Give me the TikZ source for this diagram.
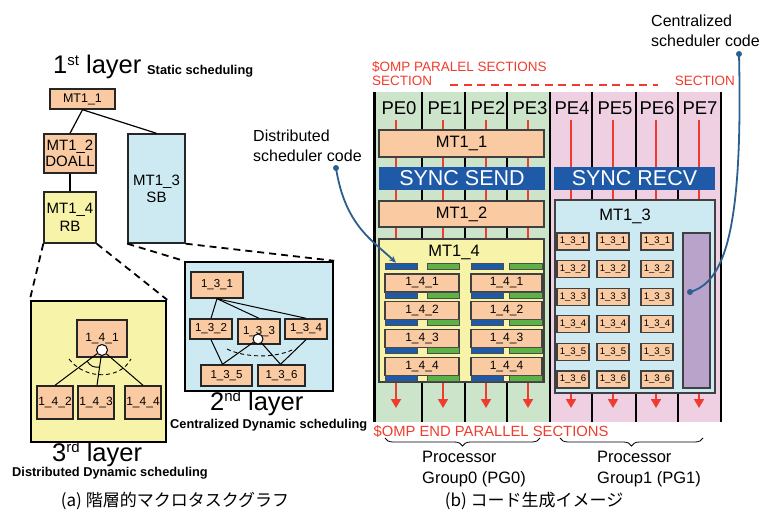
\documentclass[tikz,border=0pt]{standalone}
\usepackage{fontspec}
\setmainfont{Liberation Sans}
\newfontfamily\jpfont{Noto Sans CJK JP}
\usetikzlibrary{arrows.meta,decorations.pathreplacing}

\definecolor{peach}{HTML}{FACBA2}
\definecolor{lyellow}{HTML}{F7F3A8}
\definecolor{lblue}{HTML}{CDE9F1}
\definecolor{pgreen}{HTML}{CCE5CA}
\definecolor{ppink}{HTML}{EFD0E3}
\definecolor{dblue}{HTML}{1F5AA8}
\definecolor{bargreen}{HTML}{5DB245}
\definecolor{ompred}{HTML}{F03C2E}
\definecolor{lilac}{HTML}{B9A3CB}
\definecolor{leaderblue}{HTML}{2C5F8F}

\newcommand{\fsz}[2]{\fontsize{#1}{#2}\selectfont}
% box from corner (x1,y1) to corner (x2,y2): style, name, x1, y1, x2, y2, text
\newcommand{\bx}[7]{%
  \pgfmathsetmacro{\bxw}{#5-#3}%
  \pgfmathsetmacro{\bxh}{#6-#4}%
  \pgfmathsetmacro{\bxcx}{(#3+#5)/2}%
  \pgfmathsetmacro{\bxcy}{(#4+#6)/2}%
  \node[inner sep=0pt, #1, minimum width=\bxw pt, minimum height=\bxh pt] (#2) at (\bxcx,\bxcy) {#7};}
% layer heading with ordinal suffix
\newcommand{\layerhead}[2]{#1\raisebox{8.5pt}{\fsz{15}{15}#2} layer}

\begin{document}
\begin{tikzpicture}[x=1pt, y=-1pt,
  tbox/.style={draw=black!85, line width=1.4pt, fill=peach, align=center},
  layerbox/.style={draw=black, line width=2.4pt},
  tedge/.style={draw=black, line width=1.2pt},
  zoomline/.style={draw=black, line width=1.8pt, dash pattern=on 7pt off 5pt},
  arcdash/.style={draw=black, line width=0.9pt, dash pattern=on 4pt off 3pt},
  knot/.style={circle, draw=black, fill=white, line width=1pt, minimum size=11pt, inner sep=0pt},
  laytext/.style={anchor=base west, inner sep=0pt, font=\fsz{25.5}{27}},
  schedtext/.style={anchor=base west, inner sep=0pt, font=\bfseries\fsz{12.8}{14}},
  pbox/.style={draw=black!75, line width=1.1pt, fill=peach},
  syncbar/.style={fill=dblue, draw=none, text=white, font=\fsz{21.5}{24}},
  bluebar/.style={fill=dblue, draw=black!70, line width=0.6pt},
  greenbar/.style={fill=bargreen, draw=black!70, line width=0.6pt},
  colline/.style={draw=black, line width=2.4pt},
  redline/.style={draw=ompred, line width=1.8pt, -{Triangle[width=10pt,length=9pt]}},
  omp/.style={text=ompred, inner sep=0pt},
  pe/.style={font=\fsz{18.5}{20}, inner sep=0pt},
  leader/.style={draw=leaderblue, line width=1.8pt},
  cdot/.style={circle, fill=leaderblue, inner sep=0pt, minimum size=6pt},
  note/.style={anchor=north west, inner sep=0pt, align=left, font=\fsz{16}{20}},
  caption/.style={font=\jpfont\fsz{17}{19}, inner sep=0pt}]
\useasboundingbox (0,0) rectangle (765,513);

% ===== (a) hierarchical macro-task graph =====
\node[laytext] (lay1) at (53,74) {\layerhead{1}{st}};
\node[schedtext] (sched1) at (147,75) {Static scheduling};

\bx{tbox, font=\fsz{12.5}{14}}{m11}{50}{89}{115}{109}{MT1\_1}
\bx{tbox, font=\fsz{15}{16.5}}{m12}{44}{134}{96}{173}{MT1\_2\\DOALL}
\bx{tbox, fill=lyellow, font=\fsz{15}{18}}{m14}{44}{192}{96}{243}{MT1\_4\\RB}
\bx{tbox, fill=lblue, font=\fsz{15}{17}}{m13}{128}{134}{185}{243}{MT1\_3\\SB}

\draw[tedge] (m11.south) -- (m12.north);
\draw[tedge] (m11.south) -- (m13.north);
\draw[tedge] (m12.south) -- (m14.north);

% enlarged inner graphs
\bx{layerbox, fill=lyellow}{l3}{31}{301}{166}{442}{}
\bx{layerbox, fill=lblue}{l2}{185}{262}{333}{391}{}
\draw[zoomline] (m14.south west) -- (l3.north west);
\draw[zoomline] (m14.south east) -- (l3.north east);
\draw[zoomline] (m13.south west) -- (l2.north west);
\draw[zoomline] (m13.south east) -- (l2.north east);

% 3rd layer graph
\bx{tbox, font=\fsz{12}{13}}{n141}{77}{320}{127}{357}{1\_4\_1}
\bx{tbox, font=\fsz{12}{13}}{n142}{37}{386}{73}{419}{1\_4\_2}
\bx{tbox, font=\fsz{12}{13}}{n143}{78}{386}{114}{419}{1\_4\_3}
\bx{tbox, font=\fsz{12}{13}}{n144}{125}{386}{161}{419}{1\_4\_4}
\node[knot] (c141) at (102,350) {};
\draw[tedge, line width=1pt] (c141) -- (n142.north);
\draw[tedge, line width=1pt] (c141) -- ([xshift=1pt]n143.north);
\draw[tedge, line width=1pt] (c141) -- (n144.north);
\draw[arcdash] (69,359) .. controls (85,380) and (120,380) .. (131,359);
\draw[draw=black, line width=0.9pt] (87,361) .. controls (90,366) and (94,368) .. (100,367);

\node[laytext] (lay3) at (52,461) {\layerhead{3}{rd}};
\node[schedtext] (sched3) at (12,476) {Distributed Dynamic scheduling};

% 2nd layer graph
\bx{tbox, font=\fsz{11.5}{12}}{n131}{191}{272}{243}{298}{1\_3\_1}
\bx{tbox, font=\fsz{11.5}{12}}{n132}{190}{319}{232}{339}{1\_3\_2}
\bx{tbox, font=\fsz{11.5}{12}}{n133}{238}{319}{280}{344}{1\_3\_3}
\bx{tbox, font=\fsz{11.5}{12}}{n134}{285}{319}{327}{339}{1\_3\_4}
\bx{tbox, font=\fsz{11.5}{12}}{n135}{201}{365}{252}{386}{1\_3\_5}
\bx{tbox, font=\fsz{11.5}{12}}{n136}{258}{365}{305}{386}{1\_3\_6}
\node[knot, minimum size=10pt] (c133) at (258,339) {};
\draw[tedge, line width=1pt] (n131.south) -- (n132.north);
\draw[tedge, line width=1pt] (n131.south) -- (n133.north);
\draw[tedge, line width=1pt] (n131.south) -- (n134.north);
\draw[tedge, line width=1pt] (n132.south) -- ([xshift=-4pt]n135.north);
\draw[tedge, line width=1pt] (c133) -- ([xshift=-4pt]n135.north);
\draw[tedge, line width=1pt] (c133) -- ([xshift=-1pt]n136.north);
\draw[tedge, line width=1pt] (n134.south) -- ([xshift=-1pt]n136.north);
\draw[arcdash] (227,349) .. controls (245,358) and (275,358) .. (292,350);

\node[laytext] (lay2) at (210,410) {\layerhead{2}{nd}};
\node[schedtext] (sched2) at (170,428) {Centralized Dynamic scheduling};

\node[caption] (capa) at (175,501) {(a) 階層的マクロタスクグラフ};

% ===== (b) generated code image =====
\node[omp, anchor=base west, font=\fsz{13.5}{15}] (ompbeg) at (372,72) {\$OMP PARALEL SECTIONS};
\node[omp, anchor=base west, font=\fsz{13.5}{15}] (secL) at (372,86) {SECTION};
\node[omp, anchor=base east, font=\fsz{13.5}{15}] (secR) at (735,86) {SECTION};
\coordinate (dashA) at (450,85);
\coordinate (dashB) at (658,85);
\draw[draw=ompred, line width=1.4pt, dash pattern=on 8pt off 5.5pt] (dashA) -- (dashB);

% processor group backgrounds
\fill[pgreen] (374,92) rectangle (550,422);
\fill[ppink] (550,92) rectangle (722,422);
\foreach \x in {422,465,507,550,592,636,678,721}
  \draw[colline] (\x,92) -- (\x,422);
\draw[colline, line width=3pt] (374,92) -- (374,422);

% processor element timelines
\foreach \i/\x in {0/396,1/443,2/486,3/528,4/571,5/613,6/656,7/699}{
  \coordinate (tlA\i) at (\x,120);
  \coordinate (tlB\i) at (\x,408);
  \draw[redline] (tlA\i) -- (tlB\i);
}
\foreach \i/\x in {0/399,1/445,2/488,3/530,4/572,5/615,6/657,7/700}
  \node[pe] (pe\i) at (\x,108) {PE\i};

% PG0 code
\bx{pbox, font=\fsz{16.5}{18}}{b11}{379}{130}{544}{157}{MT1\_1}
\bx{syncbar}{send}{379}{167}{545}{190}{SYNC SEND}
\bx{pbox, font=\fsz{16.5}{18}}{b12}{379}{201}{544}{227}{MT1\_2}
\bx{pbox, fill=lyellow}{b14}{379}{239}{544}{382}{}
\node[font=\fsz{16.5}{18}, inner sep=0pt] (b14t) at (454,252) {MT1\_4};
\bx{bluebar}{bar0Lb}{385}{263}{417}{269}{}
\bx{greenbar}{bar0Lg}{427}{263}{459}{269}{}
\bx{bluebar}{bar0Rb}{471}{263}{503}{269}{}
\bx{greenbar}{bar0Rg}{509}{263}{542}{269}{}
\foreach \k in {1,...,4}{
  \pgfmathsetmacro{\ty}{274+(\k-1)*27.7}
  \pgfmathsetmacro{\tb}{\ty+18}
  \pgfmathsetmacro{\bb}{\ty+24}
  \bx{pbox, font=\fsz{12}{13}}{qL\k}{385}{\ty}{459}{\tb}{1\_4\_\k}
  \bx{bluebar}{qLb\k}{385}{\tb}{417}{\bb}{}
  \bx{greenbar}{qLg\k}{427}{\tb}{459}{\bb}{}
  \bx{pbox, font=\fsz{12}{13}}{qR\k}{471}{\ty}{542}{\tb}{1\_4\_\k}
  \bx{bluebar}{qRb\k}{471}{\tb}{503}{\bb}{}
  \bx{greenbar}{qRg\k}{509}{\tb}{542}{\bb}{}
}

% PG1 code
\bx{syncbar}{recv}{554}{167}{715}{190}{SYNC RECV}
\bx{pbox, fill=lblue}{b13}{555}{200}{715}{393}{}
\node[font=\fsz{16.5}{18}, inner sep=0pt] (b13t) at (625,216) {MT1\_3};
\foreach \r in {1,...,6}{
  \pgfmathsetmacro{\ty}{233+(\r-1)*27.6}
  \pgfmathsetmacro{\tb}{\ty+17}
  \foreach \c/\cx in {1/557,2/597,3/641}{
    \pgfmathsetmacro{\cr}{\cx+32}
    \bx{pbox, font=\fsz{9.5}{10}}{g\r\c}{\cx}{\ty}{\cr}{\tb}{1\_3\_\r}
  }
}
\bx{pbox, fill=lilac}{pbar}{683}{233}{710}{388}{}

\node[omp, font=\fsz{14.8}{16}] (ompend) at (491,432) {\$OMP END PARALLEL SECTIONS};

% processor groups
\coordinate (brA) at (385,438);
\coordinate (brB) at (540,438);
\coordinate (brC) at (560,438);
\coordinate (brD) at (703,438);
\draw[line width=0.8pt, decorate, decoration={brace, mirror, amplitude=8pt}] (brA) -- (brB);
\draw[line width=0.8pt, decorate, decoration={brace, mirror, amplitude=8pt}] (brC) -- (brD);
\node[note, font=\fsz{16.5}{21}] (pg0) at (422,451) {Processor\\Group0 (PG0)};
\node[note, font=\fsz{16.5}{21}] (pg1) at (597,451) {Processor\\Group1 (PG1)};

% scheduler code call-outs
\node[note] (dsc) at (253,130) {Distributed\\scheduler code};
\coordinate (dsdot) at (336,168);
\draw[leader, -{Stealth[length=7pt,width=6pt]}] (dsdot) .. controls (345,225) and (372,240) .. ([xshift=-5pt]bar0Lb.north);
\node[cdot] (dsmark) at (dsdot) {};

\node[note] (csc) at (651,15) {Centralized\\scheduler code};
\coordinate (csdot) at (739,54);
\coordinate (cstarget) at (690,292);
\draw[leader] (csdot) .. controls (743,230) and (725,282) .. (cstarget);
\node[cdot] (csmark) at (csdot) {};
\node[cdot] (ctmark) at (cstarget) {};

\node[caption] (capb) at (534,501) {(b) コード生成イメージ};
\end{tikzpicture}
\end{document}
